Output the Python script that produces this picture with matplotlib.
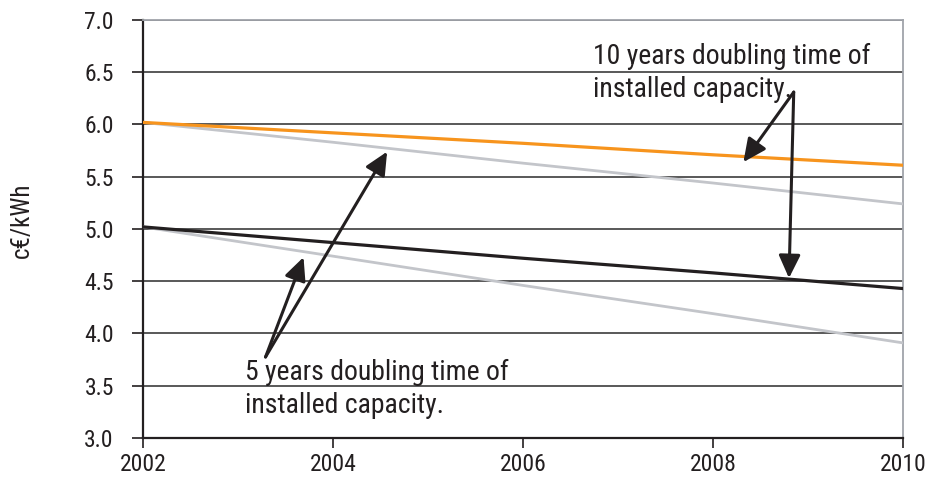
import matplotlib
matplotlib.use('Agg')
import matplotlib.pyplot as plt

plt.rcParams['font.family'] = ['Roboto Condensed', 'Liberation Sans', 'DejaVu Sans']

# values (c€/kWh)
years = [2002, 2004, 2006, 2008, 2010]
ten_year_base = [6.02, 5.92, 5.82, 5.71, 5.61]     # orange
ten_year_fast = [6.02, 5.83, 5.63, 5.44, 5.24]     # grey, upper
five_year_base = [5.02, 4.87, 4.72, 4.58, 4.43]    # black
five_year_fast = [5.02, 4.74, 4.46, 4.19, 3.91]    # grey, lower

y_ticks = [3.0, 3.5, 4.0, 4.5, 5.0, 5.5, 6.0, 6.5, 7.0]
x_ticks = [2002, 2004, 2006, 2008, 2010]

fig = plt.figure(figsize=(9.29, 4.83), dpi=100)
ax = fig.add_axes([0.1539, 0.0932, 0.8181, 0.8654])

grey = '#c3c5ca'
black = '#231f20'
orange = '#f7941d'

ax.plot(years, ten_year_fast, color=grey, lw=2.0, zorder=3)
ax.plot(years, five_year_fast, color=grey, lw=2.0, zorder=3)
ax.plot(years, five_year_base, color=black, lw=2.3, zorder=4)
ax.plot(years, ten_year_base, color=orange, lw=2.3, zorder=4)

ax.set_xlim(2002, 2010)
ax.set_ylim(3.0, 7.0)
ax.set_xticks(x_ticks)
ax.set_yticks(y_ticks)
ax.set_yticklabels([f'{v:.1f}' for v in y_ticks])

ax.yaxis.grid(True, color='#2b2b2b', lw=1.1)
ax.set_axisbelow(True)

for s in ['top', 'right']:
    ax.spines[s].set_color('#a0a4aa')
    ax.spines[s].set_linewidth(1.3)
for s in ['left', 'bottom']:
    ax.spines[s].set_color(black)
    ax.spines[s].set_linewidth(1.6)

ax.tick_params(axis='y', direction='out', length=8, width=1.2, color=black,
               labelsize=17, pad=13, labelcolor=black)
ax.tick_params(axis='x', direction='out', length=7, width=1.2, color=black,
               labelsize=17, pad=4, labelcolor=black)

ax.set_ylabel('c€/kWh', fontsize=18, color=black)
ax.yaxis.set_label_coords(-0.143, 0.52)

# annotations (va='baseline' anchors the last line)
ax.text(2006.74, 6.263, '10 years doubling time of\ninstalled capacity.',
        fontsize=20, color=black, va='baseline', ha='left',
        linespacing=1.27, zorder=6)
ax.text(2003.075, 3.239, '5 years doubling time of\ninstalled capacity.',
        fontsize=20, color=black, va='baseline', ha='left',
        linespacing=1.27, zorder=6)

arrow = dict(arrowstyle='-|>,head_length=0.7,head_width=0.33', lw=2.2,
             color=black, shrinkA=0, shrinkB=0, mutation_scale=20)
ax.annotate('', xy=(2008.32, 5.64), xytext=(2008.85, 6.31), arrowprops=arrow, zorder=5)
ax.annotate('', xy=(2008.80, 4.53), xytext=(2008.85, 6.31), arrowprops=arrow, zorder=5)
ax.annotate('', xy=(2003.69, 4.73), xytext=(2003.29, 3.775), arrowprops=arrow, zorder=5)
ax.annotate('', xy=(2004.57, 5.74), xytext=(2003.29, 3.775), arrowprops=arrow, zorder=5)

fig.savefig('out.png', dpi=100)
